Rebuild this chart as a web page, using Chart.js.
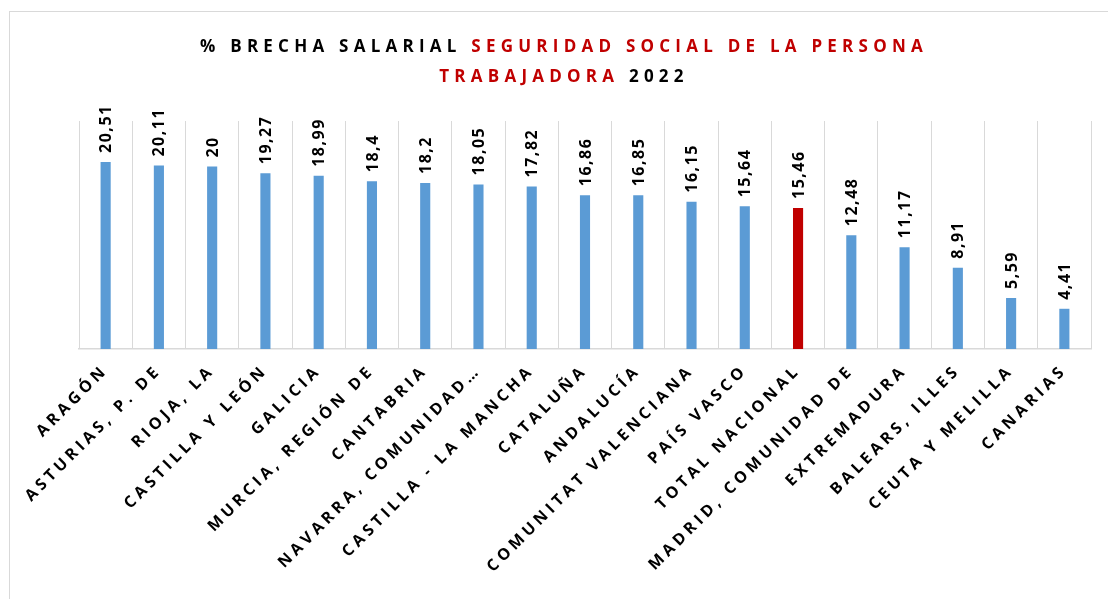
<!DOCTYPE html>
<html>
<head>
<meta charset="utf-8">
<script src="https://cdn.jsdelivr.net/npm/chart.js@4/dist/chart.umd.min.js"></script>
<style>
  html, body { margin: 0; padding: 0; background: #fff; overflow: hidden; }
  #wrap { width: 1108px; height: 599px; position: relative; }
</style>
</head>
<body>
<div id="wrap"><canvas id="chart"></canvas></div>
<script>
const regiones = ["ARAGÓN", "ASTURIAS, P. DE", "RIOJA, LA", "CASTILLA Y LEÓN", "GALICIA",
  "MURCIA, REGIÓN DE", "CANTABRIA", "NAVARRA, COMUNIDAD…", "CASTILLA - LA MANCHA", "CATALUÑA",
  "ANDALUCÍA", "COMUNITAT VALENCIANA", "PAÍS VASCO", "TOTAL NACIONAL", "MADRID, COMUNIDAD DE",
  "EXTREMADURA", "BALEARS, ILLES", "CEUTA Y MELILLA", "CANARIAS"];
const brecha = [20.51, 20.11, 20, 19.27, 18.99, 18.4, 18.2, 18.05, 17.82, 16.86,
  16.85, 16.15, 15.64, 15.46, 12.48, 11.17, 8.91, 5.59, 4.41];
const tituloLinea1 = [["% BRECHA SALARIAL ", "#000000"], ["SEGURIDAD SOCIAL DE LA PERSONA", "#C00000"]];
const tituloLinea2 = [["TRABAJADORA", "#C00000"], [" 2022", "#000000"]];

const AZUL = '#5B9BD5';
const ROJO = '#C00000';
const FONT = '"Open Sans", Lato, sans-serif';

const colores = regiones.map(r => r === "TOTAL NACIONAL" ? ROJO : AZUL);

// letter spacing for the axis labels (Chart.js doesn't expose it)
const spacing = {
  id: 'spacing',
  beforeDraw(chart) { chart.ctx.letterSpacing = '4px'; },
  afterDraw(chart) { chart.ctx.letterSpacing = '0px'; }
};

// value labels, rotated over each bar
const valores = {
  id: 'valores',
  afterDatasetsDraw(chart) {
    const ctx = chart.ctx;
    const meta = chart.getDatasetMeta(0);
    ctx.save();
    ctx.letterSpacing = '1.5px';
    ctx.font = 'bold 16px ' + FONT;
    ctx.fillStyle = '#000';
    ctx.textAlign = 'left';
    ctx.textBaseline = 'middle';
    meta.data.forEach((bar, i) => {
      const txt = String(brecha[i]).replace('.', ',');
      ctx.save();
      ctx.translate(bar.x + 1, bar.y - 9);
      ctx.rotate(-Math.PI / 2);
      ctx.fillText(txt, 0, 0);
      ctx.restore();
    });
    ctx.restore();
  }
};

// two-colour title + outer frame
const titulo = {
  id: 'titulo',
  afterDraw(chart) {
    const ctx = chart.ctx;
    ctx.save();
    ctx.strokeStyle = '#D9D9D9';
    ctx.lineWidth = 1;
    ctx.strokeRect(9.5, 11.5, 1200, 700);
    ctx.font = 'bold 17px ' + FONT;
    ctx.textBaseline = 'middle';
    ctx.textAlign = 'left';
    // spread the first line to the reference width
    ctx.letterSpacing = '0px';
    const txt1 = tituloLinea1.map(p => p[0]).join('');
    const s = Math.max(0, (728 - ctx.measureText(txt1).width) / txt1.length);
    ctx.letterSpacing = s + 'px';
    const cx = 564;
    [[tituloLinea1, 47], [tituloLinea2, 77]].forEach(([parts, y]) => {
      const w = parts.reduce((a, p) => a + ctx.measureText(p[0]).width, 0);
      let x = cx - w / 2;
      parts.forEach(([t, c]) => {
        ctx.fillStyle = c;
        ctx.fillText(t, x, y);
        x += ctx.measureText(t).width;
      });
    });
    ctx.restore();
  }
};

new Chart(document.getElementById('chart'), {
  type: 'bar',
  data: {
    labels: regiones,
    datasets: [{
      data: brecha,
      backgroundColor: colores,
      barPercentage: 0.19,
      categoryPercentage: 1
    }]
  },
  options: {
    responsive: true,
    maintainAspectRatio: false,
    animation: false,
    layout: { padding: { top: 121, left: 79, right: 17, bottom: 0 } },
    plugins: {
      legend: { display: false },
      title: { display: false },
      tooltip: { enabled: false }
    },
    scales: {
      x: {
        grid: { color: '#D9D9D9', lineWidth: 1, drawTicks: false, offset: true },
        border: { color: '#D9D9D9', width: 1.5 },
        ticks: {
          color: '#000',
          font: { family: FONT, size: 16, weight: 'bold' },
          maxRotation: 45,
          minRotation: 45,
          autoSkip: false,
          padding: 12
        },
        afterFit(s) { s.height = 250; s.paddingLeft = 0; s.paddingRight = 0; }
      },
      y: {
        display: false,
        min: 0,
        max: 25
      }
    }
  },
  plugins: [spacing, valores, titulo]
});
</script>
</body>
</html>
